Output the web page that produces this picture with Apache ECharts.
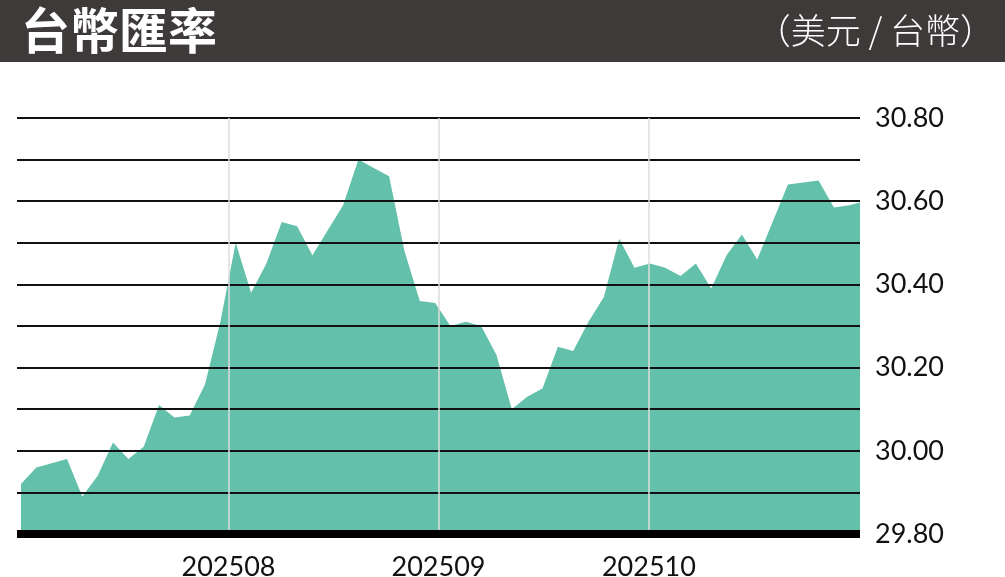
<!DOCTYPE html>
<html>
<head>
<meta charset="utf-8">
<title>台幣匯率</title>
<script src="https://cdn.jsdelivr.net/npm/echarts@6/dist/echarts.min.js"></script>
<style>
  html, body { margin: 0; padding: 0; background: #fff; }
  #main { width: 1005px; height: 577px; }
</style>
</head>
<body>
<div id="main"></div>
<script>
// 台幣匯率（美元 / 台幣），約兩個交易日一點
var rates = [
  29.92, 29.96, 29.97, 29.98, 29.89, 29.94, 30.02, 29.98, 30.01, 30.11,
  30.08, 30.085, 30.16, 30.31, 30.50, 30.38, 30.45, 30.55, 30.54, 30.47,
  30.53, 30.59, 30.70, 30.68, 30.66, 30.48, 30.36, 30.355, 30.30, 30.31,
  30.30, 30.23, 30.10, 30.13, 30.15, 30.25, 30.24, 30.31, 30.37, 30.51,
  30.44, 30.45, 30.44, 30.42, 30.45, 30.39, 30.47, 30.52, 30.46, 30.55,
  30.64, 30.645, 30.65, 30.585, 30.59, 30.60
];
// 月份分隔線（以資料點序號表示）
var monthNames = ["202508", "202509", "202510"];
var monthPos = [13.53, 27.22, 40.94];
// 縱軸刻度
var yMin = 29.8, yMax = 30.8, yStep = 0.1;

var chart = echarts.init(document.getElementById("main"));

var points = rates.map(function (v, i) { return [i, v]; });
var monthLines = monthNames.map(function (n, i) {
  return { name: n, xAxis: monthPos[i] };
});

var option = {
  animation: false,
  backgroundColor: "#fff",
  grid: { left: 17, right: 145, top: 118, bottom: 43 },
  graphic: [
    {
      type: "rect",
      shape: { x: 0, y: 0, width: 1005, height: 62 },
      style: { fill: "#3e3a39" },
      silent: true
    },
    {
      type: "text",
      left: 21,
      top: 6,
      style: {
        text: "台幣匯率",
        fill: "#fff",
        font: "bold 49px 'Noto Sans CJK TC', sans-serif"
      }
    },
    {
      type: "text",
      right: 10,
      top: 13,
      style: {
        text: "（美元 / 台幣）",
        fill: "#fff",
        font: "300 35px 'Noto Sans CJK TC', sans-serif"
      }
    }
  ],
  xAxis: {
    type: "value",
    min: -0.26,
    max: 54.7,
    z: 5,
    axisLine: { show: true, lineStyle: { color: "#000", width: 8, cap: "butt" } },
    axisTick: { show: false },
    axisLabel: { show: false },
    splitLine: { show: false }
  },
  yAxis: {
    type: "value",
    position: "right",
    min: yMin,
    max: yMax,
    interval: yStep,
    z: 5,
    axisLine: { show: false },
    axisTick: { show: false },
    axisLabel: {
      margin: 15,
      color: "#111",
      fontSize: 27,
      fontFamily: "Lato, sans-serif",
      formatter: function (v) {
        return Math.round(v * 10) % 2 === 0 ? v.toFixed(2) : "";
      }
    },
    splitLine: { show: true, lineStyle: { color: "#111", width: 2 } }
  },
  series: [
    {
      type: "line",
      data: points,
      symbol: "none",
      lineStyle: { width: 0 },
      areaStyle: { color: "#63c0aa", opacity: 1, origin: "start" },
      itemStyle: { color: "#63c0aa" },
      markLine: {
        silent: true,
        symbol: "none",
        lineStyle: { color: "#dcdcdc", width: 1.5, type: "solid" },
        label: {
          show: true,
          position: "start",
          distance: 20,
          formatter: "{b}",
          color: "#111",
          fontSize: 27,
          fontFamily: "Lato, sans-serif"
        },
        data: monthLines
      }
    }
  ]
};

chart.setOption(option);
</script>
</body>
</html>
